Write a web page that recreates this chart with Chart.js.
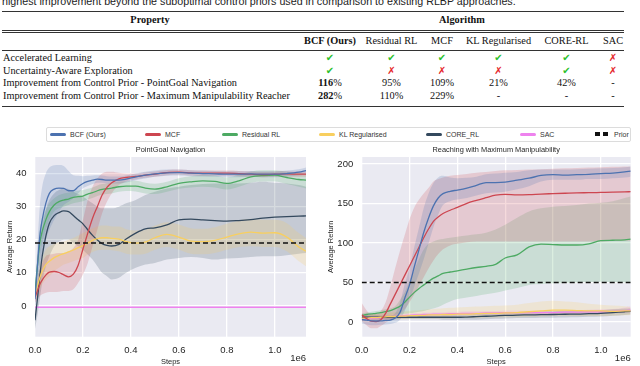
<!DOCTYPE html>
<html>
<head>
<meta charset="utf-8">
<title>BCF comparison</title>
<script src="https://cdn.jsdelivr.net/npm/chart.js@4.4.1/dist/chart.umd.min.js"></script>
<style>
    html, body { margin: 0; padding: 0; background: #fff; }
    body { width: 640px; height: 366px; position: relative; overflow: hidden; }
    .caption { position: absolute; left: 2px; top: -5px; font: 10.7px "Liberation Sans", Arial, sans-serif; color: #222; white-space: nowrap; line-height: 12px; }
    #table { position: absolute; left: 0; top: 0; width: 640px; height: 112px; font-family: "Liberation Serif", "Times New Roman", serif; font-size: 10.3px; color: #111; }
    .rule { position: absolute; left: 2px; width: 622px; background: #333; }
    .cell { position: absolute; white-space: nowrap; line-height: 12px; height: 12px; }
    .bold { font-weight: bold; }
    .yes { color: #2bbf2b; font-family: "DejaVu Sans", sans-serif; font-size: 10px; }
    .no { color: #e5262b; font-family: "DejaVu Sans", sans-serif; font-size: 10px; }
    #legend { position: absolute; left: 46px; top: 127px; width: 583px; height: 13px; border: 1px solid #dcdcdc; border-radius: 2px; background: #fff; font: 7px "Liberation Sans", Arial, sans-serif; color: #333; }
    .item { position: absolute; top: 0; height: 13px; line-height: 13px; white-space: nowrap; }
    .swatch { display: inline-block; width: 16px; height: 3px; border-radius: 1.5px; vertical-align: middle; margin-right: 4px; position: relative; top: -1px; }
    .dash { display: inline-block; width: 5px; height: 4px; background: #111; vertical-align: middle; position: relative; top: -1px; }
    canvas { position: absolute; top: 142px; }
</style>
</head>
<body>
<div class="caption">highest improvement beyond the suboptimal control priors used in comparison to existing RLBP approaches.</div>
<div id="table"></div>
<div id="legend"></div>
<canvas id="navChart" width="320" height="224" style="left:0"></canvas>
<canvas id="reachChart" width="320" height="224" style="left:320px"></canvas>
<script>
// ---- table data ----
const algorithms = ['BCF (Ours)', 'Residual RL', 'MCF', 'KL Regularised', 'CORE-RL', 'SAC'];
const propertyRows = [
    'Accelerated Learning',
    'Uncertainty-Aware Exploration',
    'Improvement from Control Prior - PointGoal Navigation',
    'Improvement from Control Prior - Maximum Manipulability Reacher'
];
const acceleratedLearning = [true, true, true, true, true, false];
const uncertaintyAware = [true, false, false, false, true, false];
const pointGoalImprovement = [116, 95, 109, 21, 42, null];
const reacherImprovement = [282, 110, 229, null, null, null];

// ---- legend ----
const seriesNames = ['BCF (Ours)', 'MCF', 'Residual RL', 'KL Regularised', 'CORE_RL', 'SAC'];
const seriesColors = ['#4C72B0', '#CD4650', '#4DAA63', '#F8CF5F', '#34495E', '#EE82EE'];

// ---- PointGoal Navigation (steps in 1e6) ----
const navSteps = [0, 0.01, 0.02, 0.03, 0.045, 0.06, 0.08, 0.1, 0.12, 0.14, 0.16, 0.18, 0.2, 0.22, 0.24, 0.26, 0.28, 0.3, 0.32, 0.35, 0.38, 0.42, 0.46, 0.5, 0.55, 0.6, 0.65, 0.7, 0.75, 0.8, 0.85, 0.9, 0.95, 1.0, 1.05, 1.1, 1.13];
const navBcf = [2, 12, 21, 26, 31, 34, 35.3, 35.6, 35.5, 34.8, 34.8, 36, 37, 37.6, 38, 38.3, 38.2, 38, 38, 38, 38.3, 39, 39.5, 39.9, 40.2, 40.3, 40.1, 40, 39.9, 39.8, 39.8, 39.9, 39.8, 39.8, 40, 40.4, 40.9];
const navBcfLow = [0, 6, 12, 16, 20, 23, 26, 28.5, 30.5, 31.5, 32.5, 34, 35.5, 36.2, 36.8, 37.2, 37.2, 37, 37, 37, 37.3, 38, 38.5, 39, 39.3, 39.4, 39.2, 39.1, 39, 38.9, 38.9, 39, 38.9, 38.9, 39.1, 39.4, 39.8];
const navBcfHigh = [4, 18, 30, 36, 40, 41.8, 42.5, 42.6, 42.3, 40.8, 39.5, 39.3, 39.2, 39.3, 39.4, 39.5, 39.4, 39.2, 39.1, 39.1, 39.4, 40, 40.5, 40.9, 41.2, 41.2, 41, 40.9, 40.8, 40.7, 40.7, 40.8, 40.7, 40.7, 40.9, 41.3, 41.8];
const navMcf = [2.7, 4.5, 6.5, 7.8, 9.3, 10.2, 10.4, 10.1, 9.4, 8.8, 9.6, 12.3, 17.2, 22, 26.5, 30, 33.5, 35.8, 37.2, 38.4, 38.8, 39.1, 39.5, 39.8, 40.3, 40.4, 40.2, 40.1, 40.1, 40.1, 40, 39.8, 39.7, 39.8, 39.9, 39.8, 39.8];
const navMcfLow = [1, 2, 3, 3.5, 4, 4.2, 4.2, 4.3, 4.5, 4.5, 5, 7, 9.5, 13, 18, 23, 28, 31.5, 34, 36.5, 37.6, 38.2, 38.7, 39, 39.5, 39.6, 39.4, 39.3, 39.3, 39.3, 39.2, 39, 38.9, 39, 39.1, 39, 39];
const navMcfHigh = [4, 8, 11, 13, 15, 15.5, 15.8, 16, 16, 16.5, 17.5, 20, 26, 32, 36, 38.5, 40, 40.5, 40.5, 40.2, 40, 40, 40.3, 40.6, 41.1, 41.2, 41, 40.9, 40.9, 40.9, 40.8, 40.6, 40.5, 40.6, 40.7, 40.6, 40.6];
const navResidual = [4, 12, 19, 22.5, 26, 28.5, 30.5, 31.5, 32, 32.3, 32.8, 33, 33.2, 33.8, 34.2, 34.8, 35.2, 35.4, 35.6, 36, 36.2, 36.2, 35.6, 35.3, 36, 37, 37.5, 37.8, 37.6, 37, 37.8, 39, 39.4, 39.5, 38.8, 38.2, 38];
const navResidualLow = [3, 9, 15, 19, 23, 26, 28.5, 29.5, 30, 30.5, 31, 31.3, 31.6, 32.2, 32.6, 33.2, 33.6, 33.8, 34, 34.5, 34.7, 34.6, 34, 33.8, 34.5, 35.4, 35.8, 36, 35.8, 35.2, 36, 37.2, 37.6, 37.6, 36.8, 36, 35.5];
const navResidualHigh = [5, 15, 23, 26, 29, 31, 32.5, 33.5, 34, 34.2, 34.6, 34.8, 35, 35.4, 35.8, 36.4, 36.8, 37, 37.2, 37.5, 37.7, 37.8, 37.2, 36.9, 37.5, 38.6, 39.2, 39.6, 39.4, 38.8, 39.6, 40.6, 41, 41, 40.6, 40.2, 40];
const navKl = [3.5, 6, 8.5, 10.5, 12.5, 13.5, 14.6, 15.3, 15.8, 16.3, 16.9, 17.6, 18.2, 19, 19.8, 20.3, 20.6, 20.6, 20.4, 20.2, 19.4, 19, 19.3, 20.6, 21.6, 20.8, 19.6, 19.4, 19.8, 20.8, 21.8, 22.3, 22, 22.1, 20.8, 17.8, 16.5];
const navKlLow = [2, 3.5, 5, 6.5, 8, 9, 10.5, 11.5, 12.5, 13, 13.5, 14, 14.5, 15.5, 16.3, 16.8, 17, 17, 16.8, 16.5, 15.8, 15.5, 15.8, 17, 17.8, 17, 15.8, 15.6, 16, 17, 17.8, 18, 17.8, 17.8, 16.5, 13.5, 12];
const navKlHigh = [5, 8.5, 12, 14.5, 17, 18, 18.8, 19.3, 19.5, 20, 20.5, 21.3, 22, 22.8, 23.5, 24, 24.3, 24.3, 24, 24, 23.2, 22.8, 23, 24.3, 25.3, 24.6, 23.5, 23.3, 23.8, 24.8, 25.8, 26.3, 26, 26, 25, 22, 20.5];
const navCore = [-4.3, 2, 9, 15, 21, 25, 27.3, 28.2, 28.7, 28.5, 27.3, 26, 24.8, 23, 21.3, 19.9, 18.8, 18.3, 18.1, 18.6, 20.2, 22, 23.3, 23.6, 24.5, 26, 26.2, 26, 25.8, 25.6, 25.8, 26.1, 26.5, 26.8, 27, 27.1, 27.2];
const navCoreLow = [-7, -3, 2, 7, 12, 15, 18, 19.5, 20, 20, 19, 18, 17, 15.5, 14, 12, 10, 9, 8, 8.5, 10, 11.5, 12.5, 13, 14, 14.5, 14.8, 14.5, 14, 14.3, 14.5, 14.8, 15, 15, 15.3, 15.8, 16];
const navCoreHigh = [-1.5, 7, 16, 23, 29, 32, 34, 35, 35.5, 35.3, 34.5, 33.8, 33, 32, 31, 30, 29.5, 29.5, 29.5, 30, 31, 32, 33.5, 34.5, 35.5, 36, 36.5, 36.8, 37, 37, 37, 37.2, 37.5, 37.2, 37, 36.5, 36];
const navSac = [-0.4, -0.4, -0.4, -0.4, -0.4, -0.4, -0.4, -0.4, -0.4, -0.4, -0.4, -0.4, -0.4, -0.4, -0.4, -0.4, -0.4, -0.4, -0.4, -0.4, -0.4, -0.4, -0.4, -0.4, -0.4, -0.4, -0.4, -0.4, -0.4, -0.4, -0.4, -0.4, -0.4, -0.4, -0.4, -0.4, -0.4];
const navPriorSteps = [0, 1.13];
const navPrior = [19, 19];

// ---- Reaching with Maximum Manipulability (steps in 1e6) ----
const reachSteps = [0, 0.02, 0.04, 0.06, 0.08, 0.1, 0.12, 0.14, 0.16, 0.18, 0.2, 0.22, 0.24, 0.26, 0.28, 0.3, 0.32, 0.34, 0.37, 0.4, 0.44, 0.48, 0.52, 0.56, 0.6, 0.65, 0.7, 0.75, 0.8, 0.85, 0.9, 0.95, 1.0, 1.05, 1.1, 1.125];
const reachBcf = [3, 2.5, 1.5, 1.3, 1.5, 2, 2.5, 5, 12, 30, 47, 70, 92, 114, 132, 147, 157, 162.5, 165.5, 167, 169.5, 173, 176.5, 176.5, 177, 179.5, 182, 185.5, 186.5, 186, 186.5, 187, 187.8, 188.5, 190, 191];
const reachBcfLow = [-2, -3, -4, -4, -3.5, -3, -2.5, -1, 3, 14, 28, 45, 62, 80, 100, 120, 136, 148, 153, 155, 157, 160, 163, 164, 165, 168, 172, 178, 180, 180, 180, 181, 181, 182, 183, 184];
const reachBcfHigh = [8, 8, 7, 6.5, 7, 7.5, 8, 11, 24, 48, 68, 95, 120, 145, 163, 176, 183, 185, 183, 182, 182.5, 184, 187, 188, 189, 190, 192, 193, 193, 193, 193.5, 194, 194.5, 195, 196, 197];
const reachMcf = [9, 4.5, 1, 0.5, 3, 11, 23, 35, 47, 59, 71, 83, 95, 107, 118, 127.5, 133, 137.3, 141.5, 145, 150.3, 154, 157.3, 160.5, 161.5, 161, 161.3, 162, 162.5, 163, 163.5, 163.7, 164, 164.3, 164.7, 165];
const reachMcfLow = [1, -4, -8, -8, -5, -1, 3, 6, 10, 16, 25, 35, 46, 57, 68, 78, 86, 92, 97, 99, 101, 102, 102, 102, 102, 102, 102, 102, 102, 102, 102, 102, 102, 102.5, 103, 103];
const reachMcfHigh = [24, 15, 10, 10, 14, 25, 45, 68, 90, 110, 130, 145, 155, 163, 170, 178, 181, 183, 185, 186, 187.5, 189, 190, 191, 192, 192.5, 193, 193.5, 194, 194.5, 195, 195.5, 196, 196.5, 197, 197];
const reachResidual = [8.5, 9.5, 10.3, 11, 12, 13, 14.5, 17, 20, 25, 31.5, 37.5, 42.5, 47, 51.5, 55.5, 58.5, 61.5, 63.3, 64.8, 67, 69, 70.5, 73, 81, 85, 95, 98.5, 98, 97.5, 97.5, 99, 103, 103.5, 104, 105];
const reachResidualLow = [6, 6.5, 7, 7.5, 8, 8.5, 9, 9.5, 10, 10.5, 11, 12, 13, 14, 15.5, 17, 19, 22, 26, 29, 31, 33, 35, 37, 40, 43, 47, 48, 49, 49.5, 50, 50.5, 51, 50.5, 50, 50];
const reachResidualHigh = [11, 12, 13, 14, 15, 16, 17.5, 20, 28, 38, 52, 66, 80, 92, 99, 102, 104, 105, 106.5, 108, 109.5, 111, 113, 117, 123, 132, 140, 144, 146, 147, 148, 150, 151, 153, 157, 159];
const reachKl = [5, 5, 5.5, 5.5, 6, 6.5, 7, 7, 7.5, 7.5, 8, 8, 8.5, 8.5, 9, 9, 9, 9.5, 9.5, 10, 10, 10.5, 11, 11, 11.5, 12, 13, 14, 15, 15, 14.5, 14, 14, 13.5, 14, 14];
const reachKlLow = [1, 1, 1.5, 1.5, 2, 2.5, 3, 3, 3.5, 3.5, 4, 4, 4, 4, 4.5, 4.5, 4.5, 4.5, 4.5, 5, 5, 5, 5.5, 5.5, 6, 6, 6.5, 7, 7.5, 7.5, 7.5, 7.5, 7.5, 8, 8.5, 9];
const reachKlHigh = [9, 9.5, 10, 10.5, 11, 11.5, 12, 12.5, 13, 13.5, 14, 14.5, 15, 15.5, 16, 16.5, 17, 17.5, 18, 18.5, 19, 19.5, 20, 20.5, 21, 22, 24, 26, 27, 26, 25, 23, 22, 21, 20, 19];
const reachCore = [6, 6, 6, 6, 6, 6, 6, 6, 6, 6, 6, 6, 6, 6, 6, 6, 6, 6, 6, 6, 6.3, 6.8, 7.3, 7.8, 8.3, 8.8, 9, 9.3, 9.5, 9.8, 10, 10.5, 11, 12, 13, 13.5];
const reachCoreLow = [3.5, 3.5, 3.5, 3.5, 3.5, 3.5, 3.5, 3.5, 3.5, 3.5, 3.5, 3.5, 3.5, 3.5, 3.5, 3.5, 3.5, 3, 3, 3, 3, 3, 3.5, 4, 4.5, 5, 5, 5.3, 5.5, 5.8, 6, 6.5, 7, 8, 9, 9.5];
const reachCoreHigh = [8.5, 8.5, 8.5, 8.5, 8.5, 8.5, 8.5, 8.5, 8.5, 8.5, 8.5, 8.5, 8.5, 8.5, 8.5, 8.5, 8.5, 9, 9, 9, 9.5, 10.5, 11, 11.5, 12, 12.5, 13, 13.3, 13.5, 13.8, 14, 14.5, 15, 16, 17, 17.5];
const reachSac = [4, 4, 4.5, 5, 5.5, 6, 6.5, 7, 7.5, 8, 8.5, 9, 9, 9.5, 9.5, 10, 10, 10, 10.5, 10.5, 11, 11, 11.5, 11.5, 12, 12, 12, 12, 12, 12.5, 12.5, 13, 13, 13.5, 14.5, 15];
const reachSacLow = [1.5, 1.5, 2, 2.5, 3, 3.5, 4, 4.5, 5, 5.5, 6, 6.5, 6.5, 7, 7, 7.5, 7.5, 7.5, 8, 8, 8.5, 8.5, 9, 9, 9.5, 9.5, 9.5, 9.5, 9.5, 10, 10, 10.5, 10.5, 11, 11.5, 11.5];
const reachSacHigh = [6.5, 6.5, 7, 7.5, 8, 8.5, 9, 9.5, 10, 10.5, 11, 11.5, 11.5, 12, 12, 12.5, 12.5, 12.5, 13, 13, 13.5, 13.5, 14, 14, 14.5, 14.5, 14.5, 14.5, 14.5, 15, 15, 15.5, 16, 16.5, 18.5, 20];
const reachPriorSteps = [0, 1.125];
const reachPrior = [50, 50];

// ---- layout (pixels) ----
const COL_CENTERS = [330, 391.5, 442, 498.5, 566.5, 613];
const ROW_Y = [58.3, 71, 83.3, 96];
const LEGEND_X = [3, 98, 175, 272, 379, 473, 548];
const TEXT_COLOR = '#262626';
const FONT_FAMILY = '"Liberation Sans", Arial, sans-serif';

document.addEventListener('DOMContentLoaded', function() {
    buildTable();
    buildLegend();

    Chart.defaults.font.family = FONT_FAMILY;
    Chart.defaults.color = TEXT_COLOR;

    const navDatasets = [
        lineDataset(navSteps, navBcf, seriesColors[0], 2),
        lineDataset(navSteps, navMcf, seriesColors[1], 3),
        lineDataset(navSteps, navResidual, seriesColors[2], 4),
        lineDataset(navSteps, navKl, seriesColors[3], 5),
        lineDataset(navSteps, navCore, seriesColors[4], 6),
        lineDataset(navSteps, navSac, seriesColors[5], 7),
        priorDataset(navPriorSteps, navPrior)
    ].concat(
        bandDatasets(navSteps, navBcfLow, navBcfHigh, seriesColors[0]),
        bandDatasets(navSteps, navMcfLow, navMcfHigh, seriesColors[1]),
        bandDatasets(navSteps, navResidualLow, navResidualHigh, seriesColors[2]),
        bandDatasets(navSteps, navKlLow, navKlHigh, seriesColors[3]),
        bandDatasets(navSteps, navCoreLow, navCoreHigh, seriesColors[4])
    );

    const reachDatasets = [
        lineDataset(reachSteps, reachBcf, seriesColors[0], 2),
        lineDataset(reachSteps, reachMcf, seriesColors[1], 3),
        lineDataset(reachSteps, reachResidual, seriesColors[2], 4),
        lineDataset(reachSteps, reachKl, seriesColors[3], 5),
        lineDataset(reachSteps, reachCore, seriesColors[4], 6),
        lineDataset(reachSteps, reachSac, seriesColors[5], 7),
        priorDataset(reachPriorSteps, reachPrior)
    ].concat(
        bandDatasets(reachSteps, reachBcfLow, reachBcfHigh, seriesColors[0]),
        bandDatasets(reachSteps, reachMcfLow, reachMcfHigh, seriesColors[1]),
        bandDatasets(reachSteps, reachResidualLow, reachResidualHigh, seriesColors[2]),
        bandDatasets(reachSteps, reachKlLow, reachKlHigh, seriesColors[3]),
        bandDatasets(reachSteps, reachCoreLow, reachCoreHigh, seriesColors[4]),
        bandDatasets(reachSteps, reachSacLow, reachSacHigh, seriesColors[5])
    );

    makeChart('navChart', navDatasets, {
        title: 'PointGoal Navigation',
        yMin: -9.3, yMax: 45, yStep: 10,
        xMax: 1.13, yWidth: 35, rightPad: 14, yTitlePad: 5.5
    });
    makeChart('reachChart', reachDatasets, {
        title: 'Reaching with Maximum Manipulability',
        yMin: -18.6, yMax: 208.9, yStep: 50,
        xMax: 1.125, yWidth: 41.7, rightPad: 9.3, yTitlePad: 6.2
    });
});

/**
 * Table of properties above the charts
 */
function buildTable() {
    const table = document.getElementById('table');

    addRule(table, 10.5, 1.5);
    addRule(table, 29.5, 1);
    addRule(table, 32, 1);
    addRule(table, 49.5, 0.8);
    addRule(table, 105.5, 1.8);

    addCell(table, 'Property', 150, 20, 'bold');
    addCell(table, 'Algorithm', 462, 20, 'bold');

    algorithms.forEach((name, i) => {
        addCell(table, name, COL_CENTERS[i], 41, i === 0 ? 'bold' : '');
    });

    propertyRows.forEach((label, r) => {
        const cell = document.createElement('div');
        cell.className = 'cell';
        cell.style.left = '3px';
        cell.style.top = (ROW_Y[r] - 6) + 'px';
        cell.textContent = label;
        table.appendChild(cell);
    });

    algorithms.forEach((name, i) => {
        addMark(table, acceleratedLearning[i], COL_CENTERS[i], ROW_Y[0]);
        addMark(table, uncertaintyAware[i], COL_CENTERS[i], ROW_Y[1]);
        addPercent(table, pointGoalImprovement[i], i === 0, COL_CENTERS[i], ROW_Y[2]);
        addPercent(table, reacherImprovement[i], i === 0, COL_CENTERS[i], ROW_Y[3]);
    });
}

function addRule(parent, y, h) {
    const rule = document.createElement('div');
    rule.className = 'rule';
    rule.style.top = y + 'px';
    rule.style.height = h + 'px';
    parent.appendChild(rule);
}

function addCell(parent, html, cx, cy, extra) {
    const cell = document.createElement('div');
    cell.className = 'cell ' + (extra || '');
    cell.style.left = (cx - 60) + 'px';
    cell.style.width = '120px';
    cell.style.textAlign = 'center';
    cell.style.top = (cy - 6) + 'px';
    cell.innerHTML = html;
    parent.appendChild(cell);
    return cell;
}

function addMark(parent, ok, cx, cy) {
    addCell(parent, ok ? '<span class="yes">✔</span>' : '<span class="no">✗</span>', cx, cy);
}

function addPercent(parent, value, bold, cx, cy) {
    if (value === null) {
        addCell(parent, '-', cx, cy);
    } else if (bold) {
        addCell(parent, '<b>' + value + '</b>%', cx, cy);
    } else {
        addCell(parent, value + '%', cx, cy);
    }
}

/**
 * Shared legend strip
 */
function buildLegend() {
    const legend = document.getElementById('legend');

    seriesNames.forEach((name, i) => {
        const item = document.createElement('div');
        item.className = 'item';
        item.style.left = LEGEND_X[i] + 'px';
        item.innerHTML = '<span class="swatch" style="background:' + seriesColors[i] + '"></span>' + name;
        legend.appendChild(item);
    });

    const prior = document.createElement('div');
    prior.className = 'item';
    prior.style.left = LEGEND_X[6] + 'px';
    prior.innerHTML = '<span class="dash"></span><span class="dash" style="margin-left:3px;margin-right:6px"></span>Prior';
    legend.appendChild(prior);
}

/**
 * Dataset helpers
 */
function toPoints(steps, values) {
    return steps.map((s, i) => ({ x: s, y: values[i] }));
}

function withAlpha(hex, alpha) {
    const r = parseInt(hex.slice(1, 3), 16);
    const g = parseInt(hex.slice(3, 5), 16);
    const b = parseInt(hex.slice(5, 7), 16);
    return `rgba(${r}, ${g}, ${b}, ${alpha})`;
}

function lineDataset(steps, values, color, order) {
    return {
        data: toPoints(steps, values),
        borderColor: color,
        borderWidth: 1.3,
        pointRadius: 0,
        fill: false,
        cubicInterpolationMode: 'monotone',
        order: order
    };
}

function priorDataset(steps, values) {
    return {
        data: toPoints(steps, values),
        borderColor: '#111',
        borderWidth: 1.5,
        borderDash: [5, 3],
        pointRadius: 0,
        fill: false,
        order: 1
    };
}

// lower edge first, upper edge fills down to it
function bandDatasets(steps, low, high, color) {
    return [
        { data: toPoints(steps, low), borderWidth: 0, pointRadius: 0, fill: false, cubicInterpolationMode: 'monotone', order: 20 },
        { data: toPoints(steps, high), borderWidth: 0, pointRadius: 0, fill: '-1', backgroundColor: withAlpha(color, 0.2), cubicInterpolationMode: 'monotone', order: 20 }
    ];
}

const plotBackground = {
    id: 'plotBackground',
    beforeDraw(chart) {
        const { ctx, chartArea } = chart;
        ctx.save();
        ctx.fillStyle = '#EAEAF2';
        ctx.fillRect(chartArea.left, chartArea.top, chartArea.right - chartArea.left, chartArea.bottom - chartArea.top);
        ctx.restore();
    }
};

// matplotlib-style "1e6" offset label under the x axis
const offsetLabel = {
    id: 'offsetLabel',
    afterDraw(chart) {
        const { ctx, chartArea } = chart;
        ctx.save();
        ctx.font = '9.5px ' + FONT_FAMILY;
        ctx.fillStyle = TEXT_COLOR;
        ctx.textAlign = 'right';
        ctx.textBaseline = 'middle';
        ctx.fillText('1e6', chartArea.right, chartArea.bottom + 21.5);
        ctx.restore();
    }
};

function makeChart(canvasId, datasets, cfg) {
    const ctx = document.getElementById(canvasId).getContext('2d');

    return new Chart(ctx, {
        type: 'line',
        data: { datasets: datasets },
        plugins: [plotBackground, offsetLabel],
        options: {
            responsive: false,
            animation: false,
            layout: { padding: { top: 3.6, right: cfg.rightPad, bottom: 0, left: 0 } },
            plugins: {
                legend: { display: false },
                tooltip: { enabled: false },
                title: {
                    display: true,
                    text: cfg.title,
                    fullSize: false,
                    color: TEXT_COLOR,
                    font: { size: 7.4, weight: 'normal' },
                    padding: { top: 0, bottom: 2.5 }
                }
            },
            scales: {
                x: {
                    type: 'linear',
                    min: 0,
                    max: cfg.xMax,
                    grid: { color: '#ffffff', lineWidth: 1.3, drawTicks: false },
                    border: { display: false },
                    ticks: {
                        stepSize: 0.2,
                        includeBounds: false,
                        autoSkip: false,
                        maxRotation: 0,
                        padding: 7.5,
                        font: { size: 9.5 },
                        callback: (v) => v.toFixed(1)
                    },
                    title: { display: true, text: 'Steps', font: { size: 7.5 }, padding: { top: 0, bottom: 0 } },
                    afterFit(scale) { scale.height = 29.3; }
                },
                y: {
                    min: cfg.yMin,
                    max: cfg.yMax,
                    grid: { color: '#ffffff', lineWidth: 1.3, drawTicks: false },
                    border: { display: false },
                    ticks: {
                        stepSize: cfg.yStep,
                        includeBounds: false,
                        padding: 8.5,
                        font: { size: 9.5 }
                    },
                    title: { display: true, text: 'Average Return', font: { size: 7.5 }, padding: { top: cfg.yTitlePad, bottom: 0 } },
                    afterFit(scale) { scale.width = cfg.yWidth; }
                }
            }
        }
    });
}
</script>
</body>
</html>
